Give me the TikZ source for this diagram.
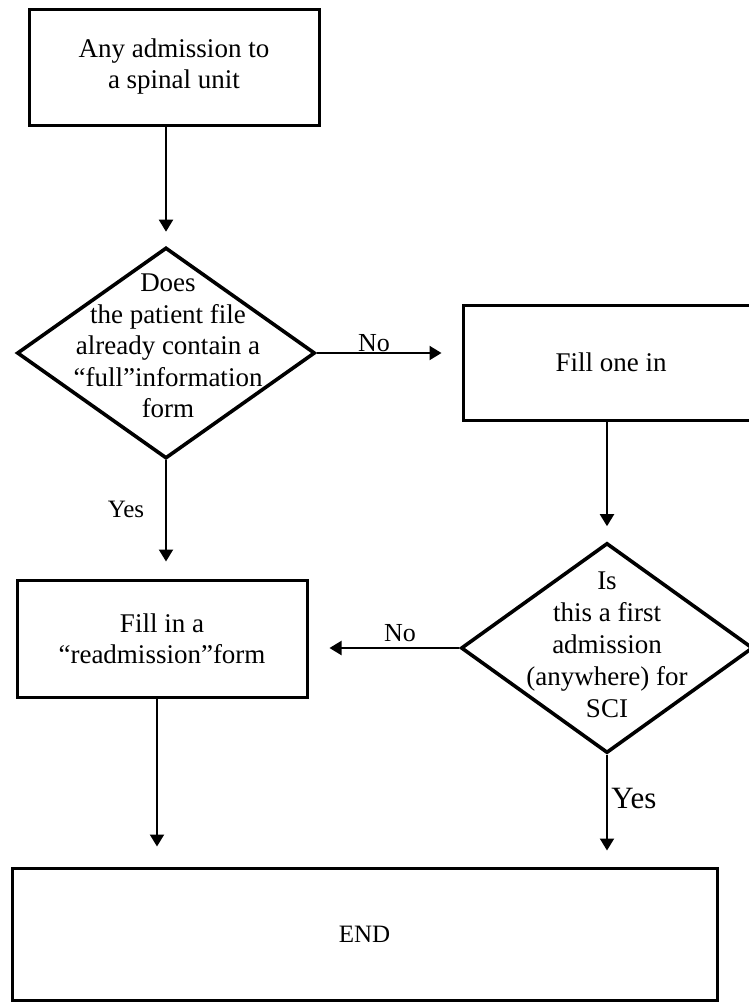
\documentclass[tikz,border=0pt]{standalone}
\usepackage{fontspec}
\setmainfont{Liberation Serif}
\usetikzlibrary{shapes.geometric,arrows.meta}
\begin{document}
\begin{tikzpicture}[x=1pt,y=-1pt,
  boxnode/.style={draw, line width=3pt, inner sep=0pt, align=center, font=\fontsize{27}{31}\selectfont},
  dianode/.style={draw, diamond, line width=3.6pt, inner sep=0pt},
  txtnode/.style={align=center, inner sep=0pt, font=\fontsize{27}{31.5}\selectfont},
  lbl/.style={inner sep=0pt, font=\fontsize{26}{30}\selectfont},
  flow/.style={line width=2pt, -{Triangle[width=14pt,length=12pt]}}]
\clip (0,0) rectangle (749,1004);
\fill[white] (0,0) rectangle (749,1004);

% boxes
\node[boxnode, minimum width=290pt, minimum height=116pt] (b1) at (174,67) {Any admission to\\a spinal unit};
\node[boxnode, minimum width=296pt, minimum height=115pt] (b2) at (611,362.5) {Fill one in};
\node[boxnode, minimum width=290pt, minimum height=117pt] (b3) at (162,638.5) {Fill in a\\“readmission”form};
\node[boxnode, minimum width=705pt, minimum height=132pt, font=\fontsize{25}{30}\selectfont] (e) at (364.5,934) {END};

% decisions
\node[dianode, minimum width=298pt, minimum height=211pt] (d1) at (166,353) {};
\node[txtnode] (d1t) at (168,346) {Does\\the patient file\\already contain a\\“full”information\\form};
\node[dianode, minimum width=292pt, minimum height=210pt] (d2) at (607,648) {};
\node[txtnode, font=\fontsize{27}{32}\selectfont] (d2t) at (607,645) {Is\\this a first\\admission\\(anywhere) for\\SCI};

% labels
\node[lbl] (no1) at (374,343) {No};
\node[lbl] (no2) at (400,633) {No};
\node[lbl, font=\fontsize{25}{30}\selectfont] (yes1) at (126,509) {Yes};
\node[lbl, font=\fontsize{31}{36}\selectfont] (yes2) at (634,798) {Yes};

% connectors
\draw[flow, shorten >=14pt] (b1.south -| d1.north) -- (d1.north);
\draw[flow, shorten >=20pt] (d1.east) -- (d1.east -| b2.west);
\draw[flow, shorten >=15pt] (b2.south -| d2.north) -- (d2.north);
\draw[flow, shorten >=21pt] (d2.west) -- (d2.west -| b3.east);
\draw[flow, shorten >=17pt] (d1.south) -- (d1.south |- b3.north);
\draw[flow, shorten >=20pt] ([xshift=-5pt]b3.south) -- ([xshift=-5pt]b3.south |- e.north);
\draw[flow, shorten >=16pt] (d2.south) -- (d2.south |- e.north);
\end{tikzpicture}
\end{document}
